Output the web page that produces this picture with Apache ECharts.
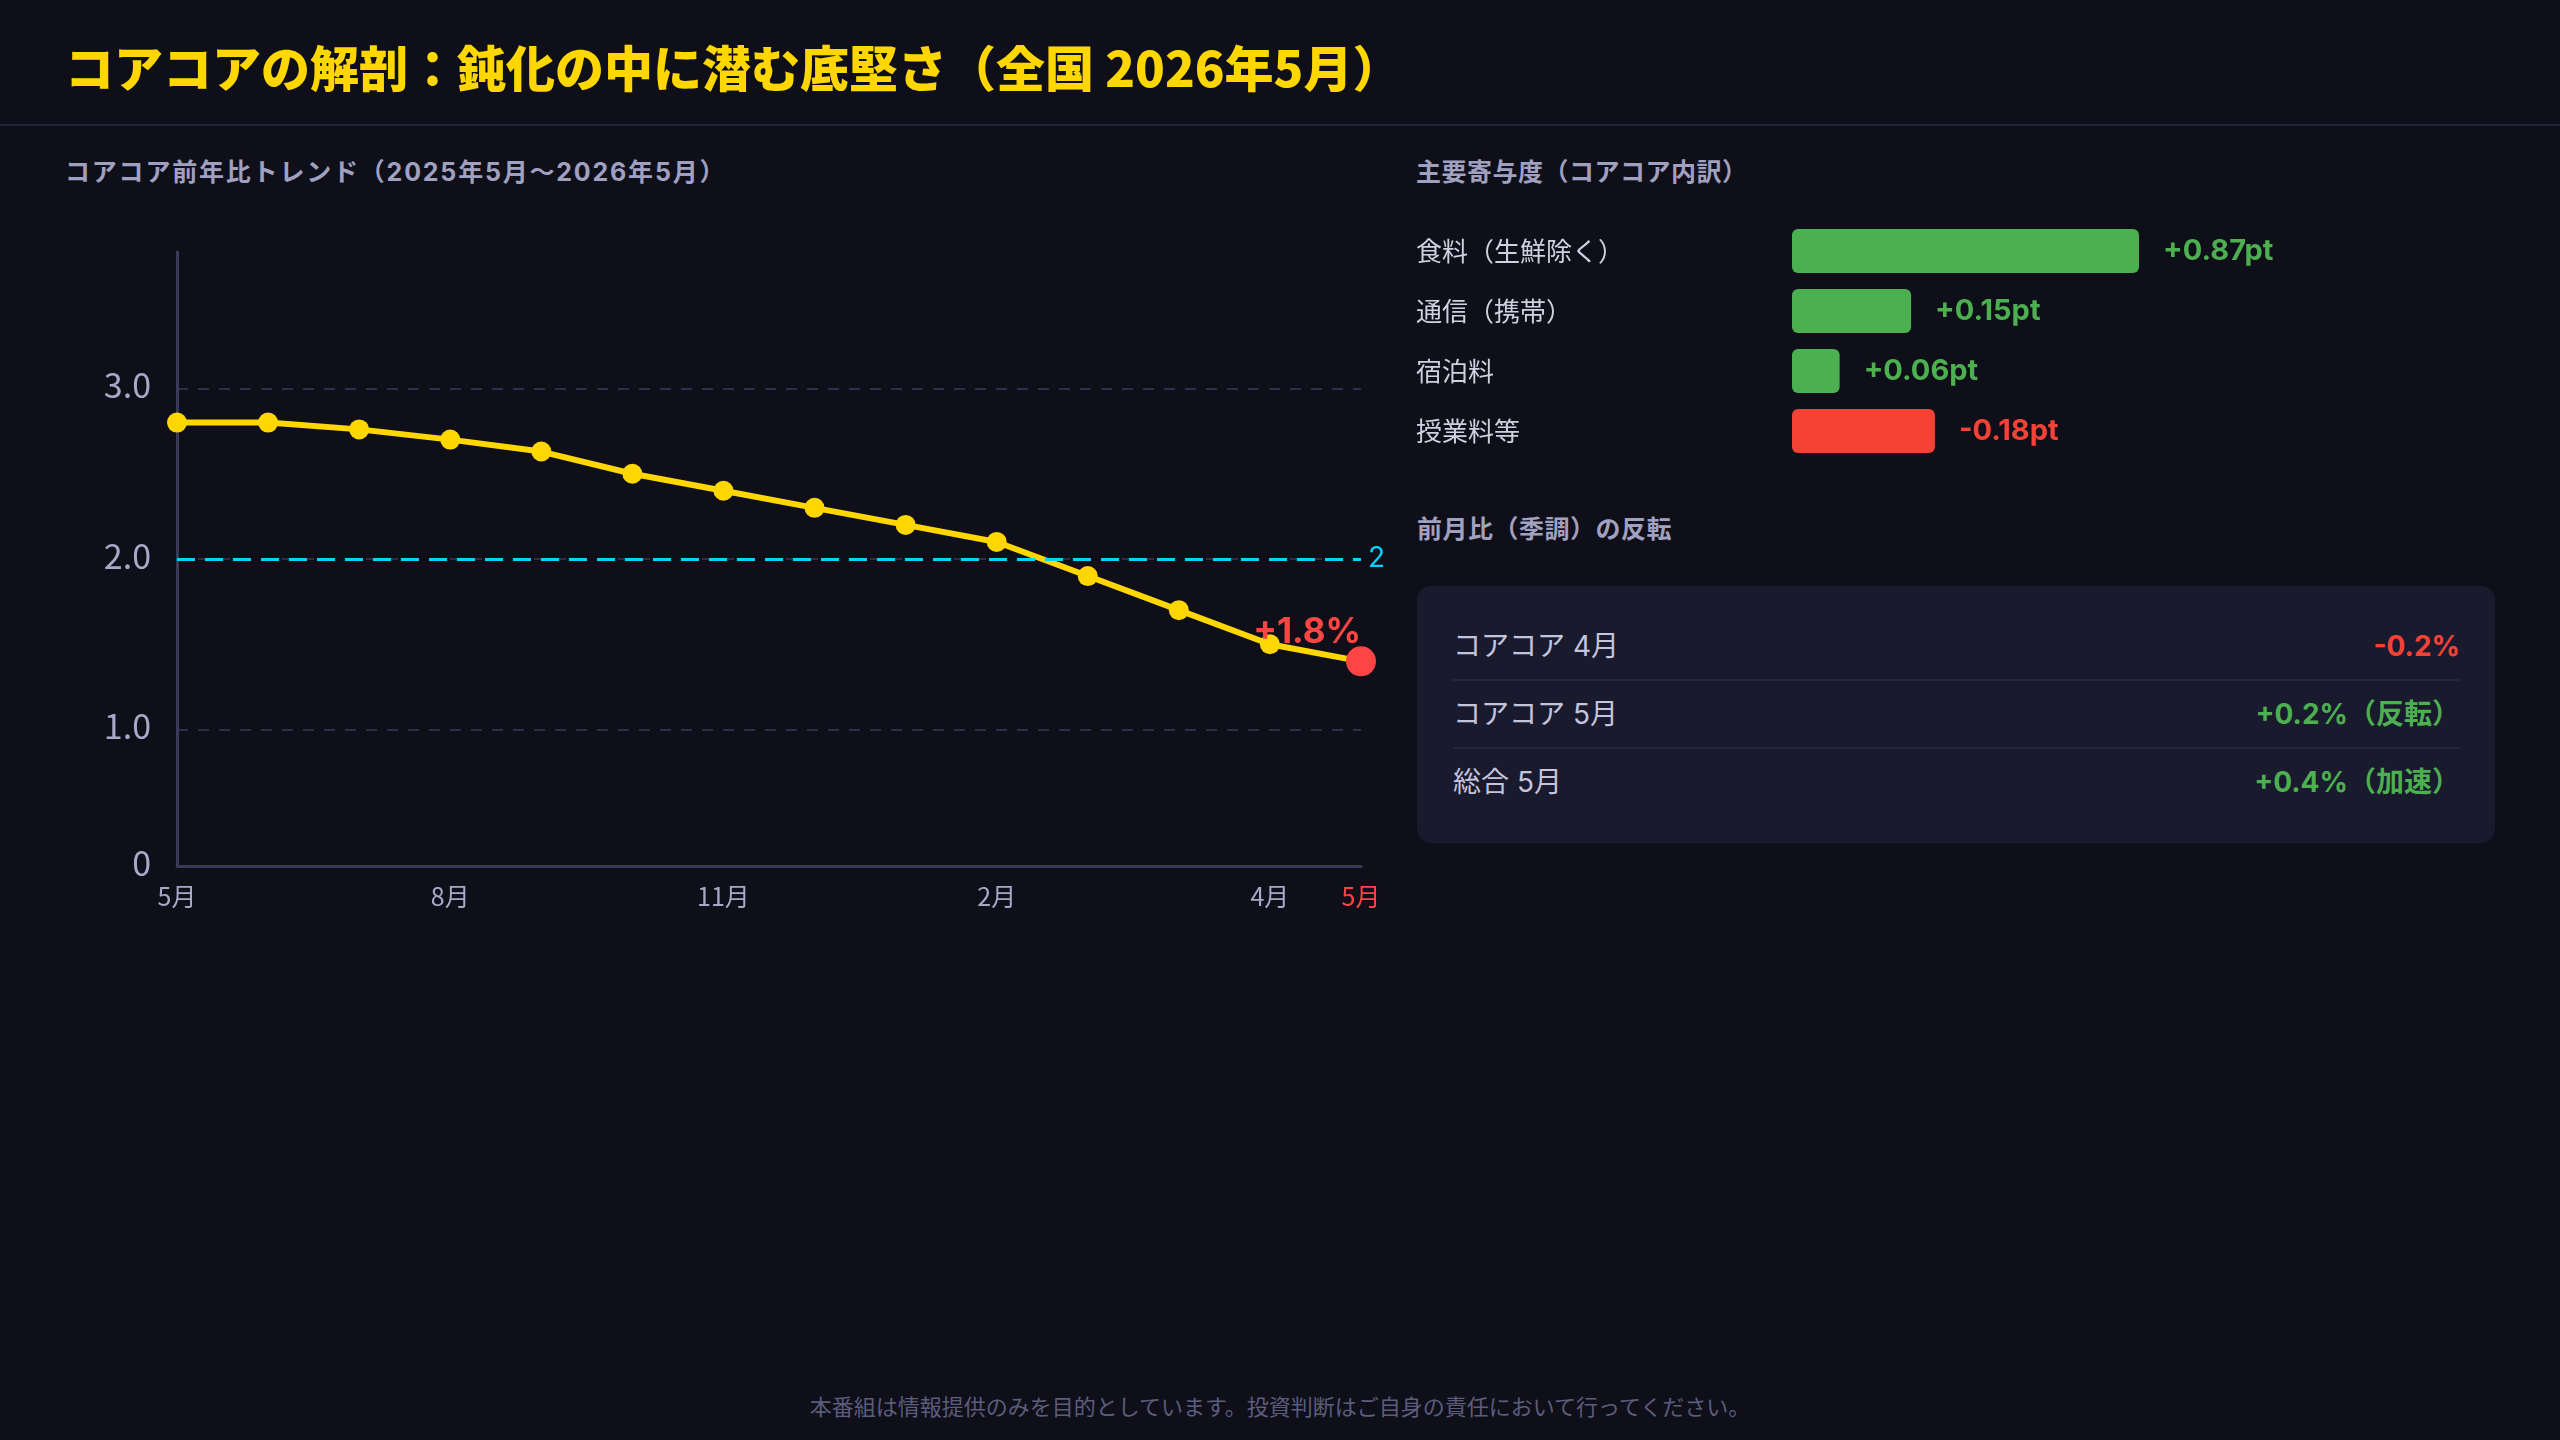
<!DOCTYPE html>
<html lang="ja">
<head>
<meta charset="UTF-8">
<title>コアコアの解剖</title>
<script src="https://cdn.jsdelivr.net/npm/echarts@6/dist/echarts.min.js"></script>
<style>
  html, body {
    margin: 0;
    padding: 0;
    background: #0f0f1a;
    font-family: 'Noto Sans CJK JP', 'Noto Sans', sans-serif;
  }
  .page {
    position: relative;
    width: 2560px;
    height: 1440px;
    overflow: hidden;
  }
  .title {
    position: absolute;
    left: 65px;
    top: 37px;
    line-height: 58px;
    font-size: 49px;
    font-weight: 900;
    color: #ffd700;
    white-space: nowrap;
  }
  .header-line {
    position: absolute;
    left: 0;
    top: 124px;
    width: 100%;
    height: 2px;
    background: #22223a;
  }
  .sub {
    position: absolute;
    line-height: 30px;
    font-size: 25px;
    font-weight: 700;
    color: #a0a0c0;
    white-space: nowrap;
    font-family: Inter, 'Noto Sans CJK JP', sans-serif;
  }
  .chart {
    position: absolute;
  }
  .mom-box {
    position: absolute;
    left: 1417px;
    top: 586px;
    width: 1078px;
    height: 257px;
    box-sizing: border-box;
    padding: 27px 35px 27px 36px;
    border-radius: 14px;
    background: #1a1a2e;
  }
  .mom-row {
    display: flex;
    justify-content: space-between;
    height: 66px;
    line-height: 66px;
    font-size: 28px;
  }
  .mom-row + .mom-row {
    border-top: 2px solid #262644;
  }
  .mom-row .name {
    color: #c4c4dc;
    font-family: Inter, 'Noto Sans CJK JP', sans-serif;
  }
  .mom-row .val {
    font-weight: 700;
    font-size: 28px;
    font-family: Inter, 'Noto Sans CJK JP', sans-serif;
  }
  .footer {
    position: absolute;
    left: 0;
    top: 1390px;
    width: 100%;
    text-align: center;
    line-height: 30px;
    font-size: 22px;
    color: #5c5c7c;
  }
</style>
</head>
<body>
<div class="page">
  <div class="title">コアコアの解剖：鈍化の中に潜む底堅さ（全国 2026年5月）</div>
  <div class="header-line"></div>

  <div class="sub" style="left:65px;top:157px;letter-spacing:1.8px">コアコア前年比トレンド（2025年5月〜2026年5月）</div>
  <div class="chart" id="trend" style="left:0;top:200px;width:1386px;height:760px"></div>

  <div class="sub" style="left:1416px;top:157px;letter-spacing:0.5px">主要寄与度（コアコア内訳）</div>
  <div class="chart" id="contrib" style="left:1380px;top:200px;width:1100px;height:300px"></div>

  <div class="sub" style="left:1417px;top:514px;letter-spacing:0.5px">前月比（季調）の反転</div>
  <div class="mom-box" id="momBox"></div>

  <div class="footer">本番組は情報提供のみを目的としています。投資判断はご自身の責任において行ってください。</div>
</div>

<script>
// コアコア前年比（%）2025年5月〜
const trendLabels = ['5月', '', '', '8月', '', '', '11月', '', '', '2月', '', '', '4月', '5月']
const trendValues = [2.8, 2.8, 2.76, 2.7, 2.63, 2.5, 2.4, 2.3, 2.2, 2.1, 1.9, 1.7, 1.5, 1.4]
const latestLabel = '+1.8%'
const targetValue = 2.0
const targetLabel = '2.0%'
const yTickValues = [0.2, 1, 2, 3]
const yTickLabels = ['0', '1.0', '2.0', '3.0']

// 主要寄与度（pt）
const contribNames = ['食料（生鮮除く）', '通信（携帯）', '宿泊料', '授業料等']
const contribValues = [0.87, 0.15, 0.06, -0.18]

// 前月比（季調）
const momNames = ['コアコア 4月', 'コアコア 5月', '総合 5月']
const momValues = [-0.2, 0.2, 0.4]
const momNotes = ['', '反転', '加速']

const FONT = "'Noto Sans CJK JP', 'Noto Sans', sans-serif"
const NUM_FONT = "Inter, 'Noto Sans CJK JP', sans-serif"
const GREEN = '#4caf50'
const RED = '#f44336'

// トレンドチャート
const trendChart = echarts.init(document.getElementById('trend'))
const last = trendValues.length - 1
trendChart.setOption({
  animation: false,
  textStyle: { fontFamily: FONT },
  grid: {
    left: 177,
    right: 25,
    top: 52,
    bottom: 94,
  },
  xAxis: {
    type: 'category',
    boundaryGap: false,
    data: trendLabels,
    axisLine: {
      lineStyle: { color: '#3a3a58', width: 3 },
    },
    axisTick: { show: false },
    axisLabel: {
      interval: 0,
      margin: 18,
      fontSize: 25,
      color: '#a8a8c8',
      formatter: (val, idx) => (idx === last ? `{hl|${val}}` : val),
      rich: {
        hl: { color: '#ff4444', fontSize: 25 },
      },
    },
  },
  yAxis: {
    type: 'value',
    min: 0.2,
    max: 3.8,
    axisLine: {
      show: true,
      lineStyle: { color: '#3a3a58', width: 3 },
    },
    axisTick: {
      show: false,
      customValues: [1, 2, 3],
    },
    axisLabel: {
      customValues: yTickValues,
      margin: 26,
      fontSize: 34,
      color: '#a8a8c8',
      verticalAlign: 'bottom',
      lineHeight: 34,
      padding: [0, 0, -14, 0],
      formatter: (v) => yTickLabels[yTickValues.indexOf(v)],
    },
    splitLine: {
      show: true,
      lineStyle: { color: '#2e2e4a', width: 2, type: [11, 10] },
    },
  },
  series: [
    {
      type: 'line',
      data: trendValues.map((v, i) => {
        if (i !== last) return v
        return {
          value: v,
          symbolSize: 30,
          itemStyle: { color: '#ff4444' },
          label: {
            show: true,
            position: 'top',
            align: 'right',
            offset: [0, 9],
            formatter: latestLabel,
            fontFamily: NUM_FONT,
            fontSize: 35,
            fontWeight: 'bold',
            color: '#ff4444',
          },
        }
      }),
      symbol: 'circle',
      symbolSize: 20,
      lineStyle: { color: '#ffd700', width: 6 },
      itemStyle: { color: '#ffd700' },
      markLine: {
        silent: true,
        symbol: 'none',
        data: [{ yAxis: targetValue }],
        lineStyle: { color: '#00d4ff', width: 3, type: [18, 10] },
        label: {
          position: 'end',
          distance: 7,
          formatter: targetLabel,
          fontFamily: NUM_FONT,
          fontSize: 28,
          color: '#00d4ff',
        },
      },
    },
  ],
})

// 寄与度バー
const contribChart = echarts.init(document.getElementById('contrib'))
contribChart.setOption({
  animation: false,
  textStyle: { fontFamily: FONT },
  grid: {
    left: 412,
    width: 347,
    top: 21,
    height: 240,
  },
  xAxis: {
    type: 'value',
    min: 0,
    max: 0.437,
    show: false,
  },
  yAxis: {
    type: 'category',
    inverse: true,
    data: contribNames,
    axisLine: { show: false },
    axisTick: { show: false },
    axisLabel: {
      align: 'left',
      margin: 376,
      fontSize: 26,
      color: '#d0d0e0',
    },
  },
  series: [
    {
      type: 'bar',
      clip: true,
      barWidth: 44,
      data: contribValues.map((v) => ({
        value: Math.abs(v),
        itemStyle: { color: v >= 0 ? GREEN : RED },
        label: { color: v >= 0 ? GREEN : RED },
      })),
      itemStyle: { borderRadius: 6 },
      label: {
        show: true,
        position: 'right',
        distance: 24,
        fontFamily: NUM_FONT,
        fontSize: 29,
        fontWeight: 'bold',
        formatter: (p) => {
          const v = contribValues[p.dataIndex]
          return (v > 0 ? '+' : '') + v.toFixed(2) + 'pt'
        },
      },
    },
  ],
})

// 前月比テーブル
const momBox = document.getElementById('momBox')
momBox.innerHTML = momNames
  .map((name, i) => {
    const v = momValues[i]
    const color = v >= 0 ? GREEN : RED
    const text = (v > 0 ? '+' : '') + v.toFixed(1) + '%' + (momNotes[i] ? `（${momNotes[i]}）` : '')
    return `<div class="mom-row"><span class="name">${name}</span><span class="val" style="color:${color}">${text}</span></div>`
  })
  .join('')

window.addEventListener('resize', () => {
  trendChart.resize()
  contribChart.resize()
})
</script>
</body>
</html>
